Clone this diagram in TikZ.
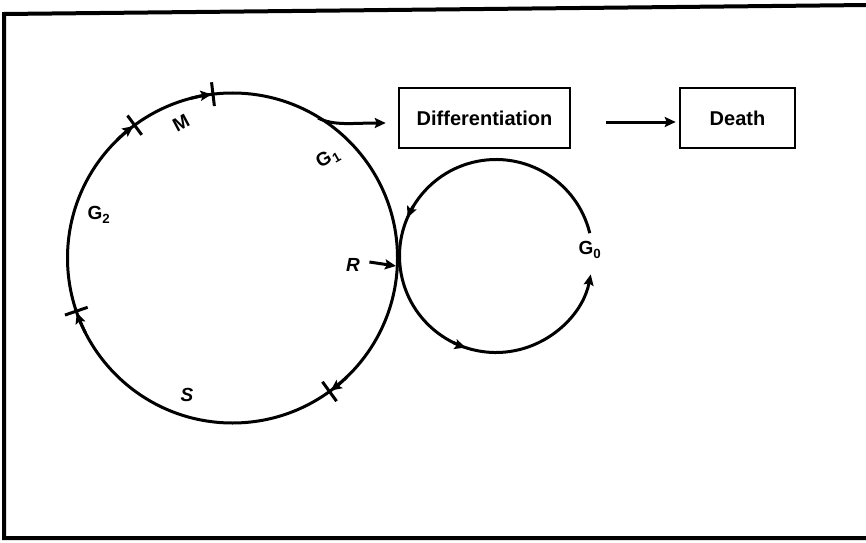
\documentclass[tikz,border=0pt]{standalone}
\usepackage{fontspec}
\setmainfont{Liberation Sans}
\usetikzlibrary{arrows.meta}
\begin{document}
\begin{tikzpicture}[x=1pt,y=1pt,
  curve/.style={line width=3pt},
  tip/.style={-{Stealth[length=11pt,width=10pt,inset=2pt]}},
  tickmark/.style={line width=3pt},
  box/.style={draw,line width=2.5pt,minimum height=60pt,inner sep=0pt,
    font=\fontsize{20}{24}\selectfont\bfseries},
  lab/.style={font=\fontsize{19}{22}\selectfont\bfseries},
  ilab/.style={font=\fontsize{19}{22}\selectfont\bfseries\itshape}]
\useasboundingbox (0,0) rectangle (866,542);
% frame
\draw[line width=4pt,line join=miter] (868,4) -- (4,4) -- (4,528) -- (868,537);
% big cycle
\coordinate (C1) at (232.5,284);
\draw[curve] (C1) circle[radius=165];
\foreach \a in {96.8,126.4,198.8,-54} {
  \draw[tickmark] (C1) ++(\a:153) -- ++(\a:24);
  \draw[curve,tip] (C1) ++(\a+8:165) arc[start angle=\a+8, end angle=\a+0.5, radius=165];
}
% small cycle
\coordinate (C2) at (496,286);
\draw[curve,tip] (C2) ++(13.7:96.5) arc[start angle=13.7, end angle=349, radius=96.5];
\foreach \a in {156.6,251.7} {
  \draw[curve,tip] (C2) ++(\a-8:96.5) arc[start angle=\a-8, end angle=\a, radius=96.5];
}
% boxes
\node[box,minimum width=171pt] (D) at (484.5,424) {Differentiation};
\node[box,minimum width=115pt] (De) at (737.5,424) {Death};
\draw[curve,tip] ([xshift=35pt,yshift=-4pt]D.east) -- ([xshift=-3pt,yshift=-4pt]De.west);
% G1 exit to differentiation
\coordinate (G1s) at (318,424);
\coordinate (Din) at ([xshift=-12pt,yshift=-5pt]D.west);
\draw[curve,tip] (G1s) .. controls (334,416) and (352,419) .. (Din);
% labels
\node[lab,rotate=28] (M) at (181,419) {M};
\node[lab] (G2) at (99,327) {G\textsubscript{2}};
\node[lab,rotate=30,inner sep=0pt] (G1) at (328,384) {G\kern1pt\textsubscript{1}};
\node[ilab] (S) at (187,147) {S};
\node[lab] (G0) at (590,292) {G\textsubscript{0}};
\node[ilab] (R) at (353,277) {R};
\coordinate (T) at (396,276);
\draw[curve,tip] ([xshift=6pt,yshift=3pt]R.east) -- (T);
\end{tikzpicture}
\end{document}
